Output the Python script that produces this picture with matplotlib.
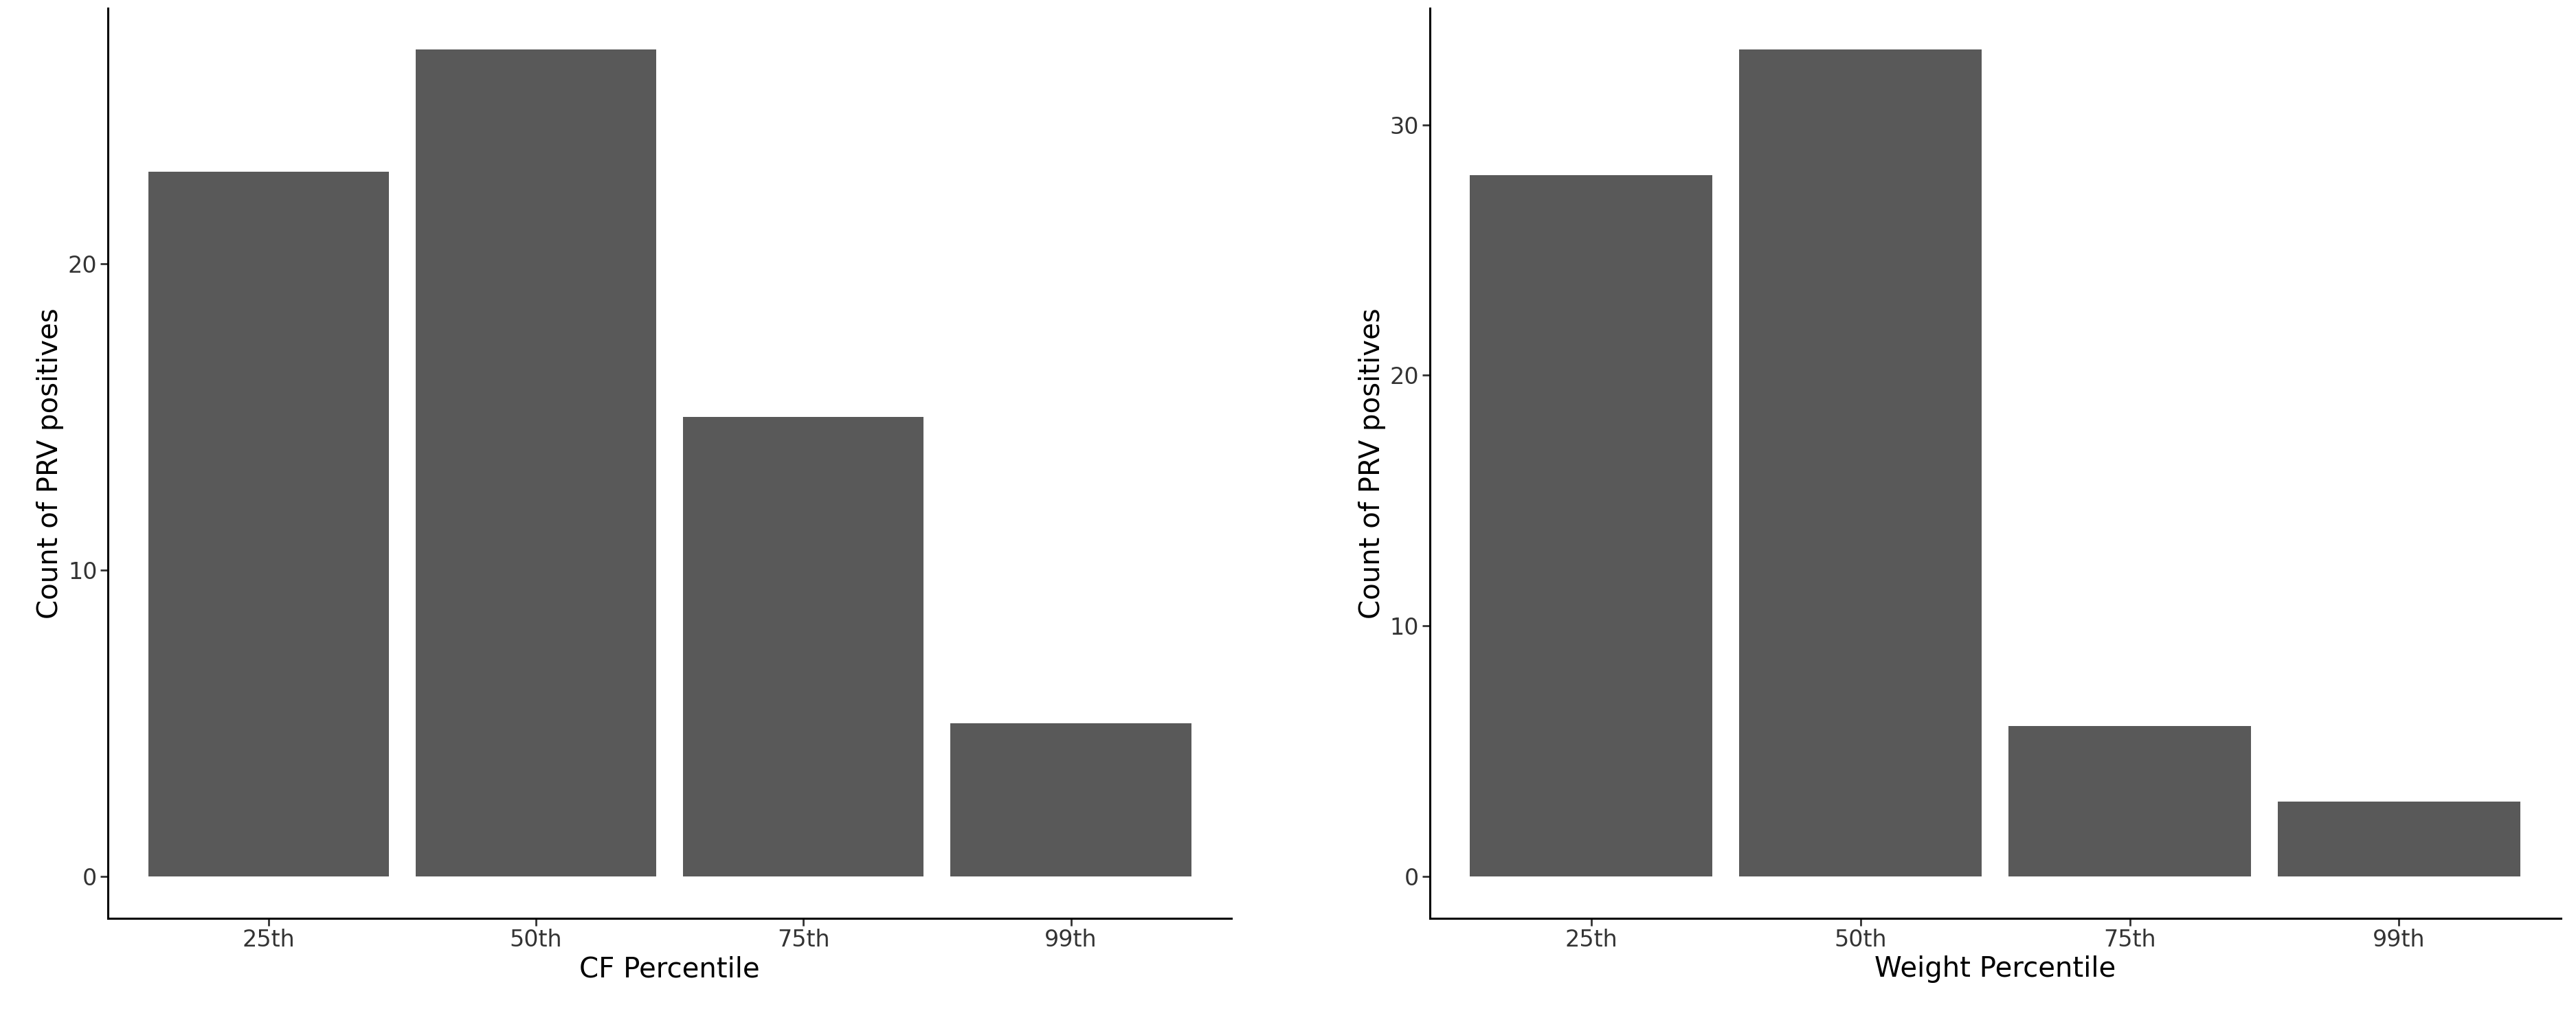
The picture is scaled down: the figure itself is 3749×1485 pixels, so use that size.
import matplotlib
matplotlib.use('Agg')
import matplotlib.pyplot as plt

categories = ['25th', '50th', '75th', '99th']
cf_counts = [23, 27, 15, 5]
weight_counts = [28, 33, 6, 3]

fig = plt.figure(figsize=(37.49, 14.85), dpi=100)
ax1 = fig.add_axes([0.042, 0.10, 0.436, 0.892])
ax2 = fig.add_axes([0.555, 0.10, 0.439, 0.892])

panels = [(ax1, cf_counts, 'CF Percentile', [0, 10, 20]),
          (ax2, weight_counts, 'Weight Percentile', [0, 10, 20, 30])]

for ax, counts, xlabel, yticks in panels:
    xs = range(1, len(categories) + 1)
    ax.bar(xs, counts, width=0.9, color='#595959')
    ax.set_xlim(0.4, 4.6)
    top = max(counts)
    ax.set_ylim(-0.05 * top, 1.05 * top)
    ax.set_xticks(list(xs))
    ax.set_xticklabels(categories)
    ax.set_yticks(yticks)
    ax.set_xlabel(xlabel, fontsize=29, color='black')
    ax.set_ylabel('Count of PRV positives', fontsize=29, color='black')
    ax.tick_params(labelsize=24, length=8, width=2, colors='#333333', labelcolor='#333333')
    for s in ['top', 'right']:
        ax.spines[s].set_visible(False)
    for s in ['left', 'bottom']:
        ax.spines[s].set_linewidth(2.2)

fig.savefig('out.png', dpi=100)
